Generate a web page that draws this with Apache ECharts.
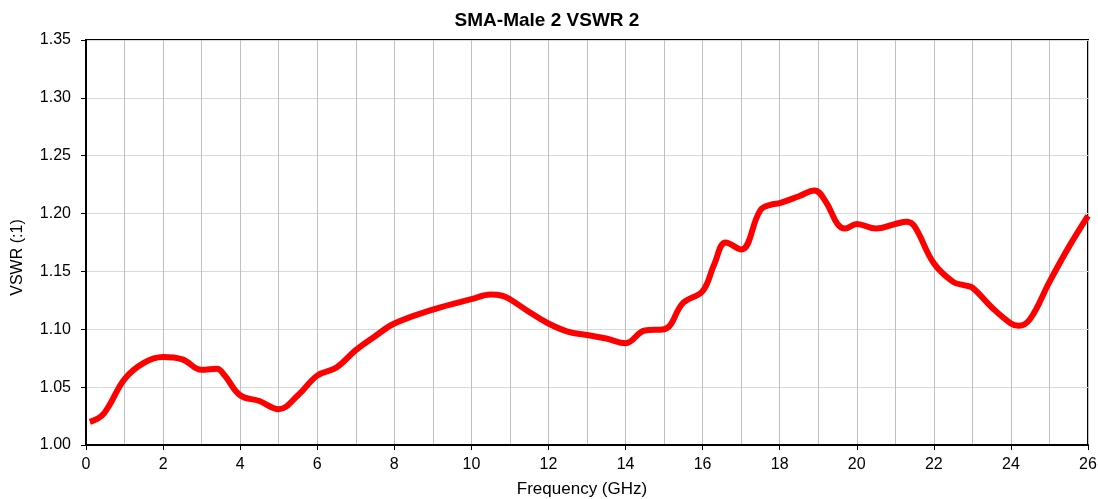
<!DOCTYPE html>
<html>
<head>
<meta charset="utf-8">
<script src="https://cdn.jsdelivr.net/npm/echarts@6/dist/echarts.min.js"></script>
<style>
  html,body{margin:0;padding:0;background:#fff;overflow:hidden;}
  #chart{width:1098px;height:499px;}
</style>
</head>
<body>
<div id="chart"></div>
<script>
// frequency points (GHz)
const freq = [0.1, 0.4, 0.6, 1, 1.5, 2, 2.5, 3, 3.4, 3.6, 4, 4.5, 5, 5.5, 6, 6.5, 7, 7.5, 8,
  9, 10, 10.5, 10.8, 11, 11.5, 12, 12.5, 13, 13.5, 14, 14.5, 15, 15.5, 16, 16.3, 16.6, 17,
  17.5, 17.8, 18, 18.5, 18.9, 19.2, 19.5, 19.7, 20, 20.5, 21, 21.3, 21.5, 22, 22.5, 22.8,
  23, 23.5, 24, 24.2, 24.5, 25, 25.5, 26]
// VSWR values
const vswr = [1.020, 1.025, 1.034, 1.057, 1.071, 1.076, 1.074, 1.065, 1.066, 1.060, 1.043, 1.038, 1.031, 1.043, 1.060, 1.067, 1.082, 1.094, 1.105,
  1.117, 1.126, 1.130, 1.129, 1.126, 1.115, 1.105, 1.098, 1.095, 1.092, 1.088, 1.099, 1.100, 1.123, 1.133, 1.156, 1.175, 1.169,
  1.203, 1.208, 1.209, 1.215, 1.220, 1.210, 1.191, 1.187, 1.191, 1.187, 1.191, 1.193, 1.189, 1.157, 1.141, 1.138,
  1.136, 1.119, 1.105, 1.103, 1.109, 1.141, 1.171, 1.198]

const chart = echarts.init(document.getElementById('chart'))
const font = 'Liberation Sans, Arial, sans-serif'

chart.setOption({
  animation: false,
  title: {
    text: 'SMA-Male 2 VSWR 2',
    left: 542,
    textAlign: 'center',
    top: 6,
    textStyle: {fontFamily: font, fontSize: 19, fontWeight: 'bold', color: '#000'}
  },
  grid: {
    left: 86, right: 10, top: 40, bottom: 54,
    outerBoundsMode: 'none',
    show: true, borderColor: '#000', borderWidth: 2
  },
  xAxis: {
    type: 'value',
    min: 0, max: 26, interval: 2,
    name: 'Frequency (GHz)',
    nameLocation: 'middle',
    nameGap: 36,
    nameTextStyle: {fontFamily: font, fontSize: 17, color: '#000', padding: [0, 10, 0, 0]},
    axisLine: {lineStyle: {color: '#000', width: 2}},
    axisTick: {show: true, length: 5, lineStyle: {color: '#000'}},
    axisLabel: {fontFamily: font, fontSize: 16, color: '#000', margin: 12},
    splitLine: {show: true, lineStyle: {color: '#bfbfbf', width: 1}},
    minorTick: {show: false, splitNumber: 2},
    minorSplitLine: {show: true, lineStyle: {color: '#bfbfbf', width: 1}}
  },
  yAxis: {
    type: 'value',
    min: 1.00, max: 1.35, interval: 0.05,
    name: 'VSWR (:1)',
    nameLocation: 'middle',
    nameGap: 60,
    nameTextStyle: {fontFamily: font, fontSize: 16, color: '#000', padding: [0, 30, 0, 0]},
    axisLine: {show: true, lineStyle: {color: '#000', width: 2}},
    axisTick: {show: true, length: 5, lineStyle: {color: '#000'}},
    axisLabel: {fontFamily: font, fontSize: 16, color: '#000', margin: 15,
      formatter: v => v.toFixed(2)},
    splitLine: {show: true, lineStyle: {color: '#d9d9d9', width: 1}}
  },
  series: [{
    type: 'line',
    data: freq.map((f, i) => [f, vswr[i]]),
    smooth: 0.4,
    symbol: 'none',
    lineStyle: {color: '#ff0000', width: 6}
  }]
})
</script>
</body>
</html>
